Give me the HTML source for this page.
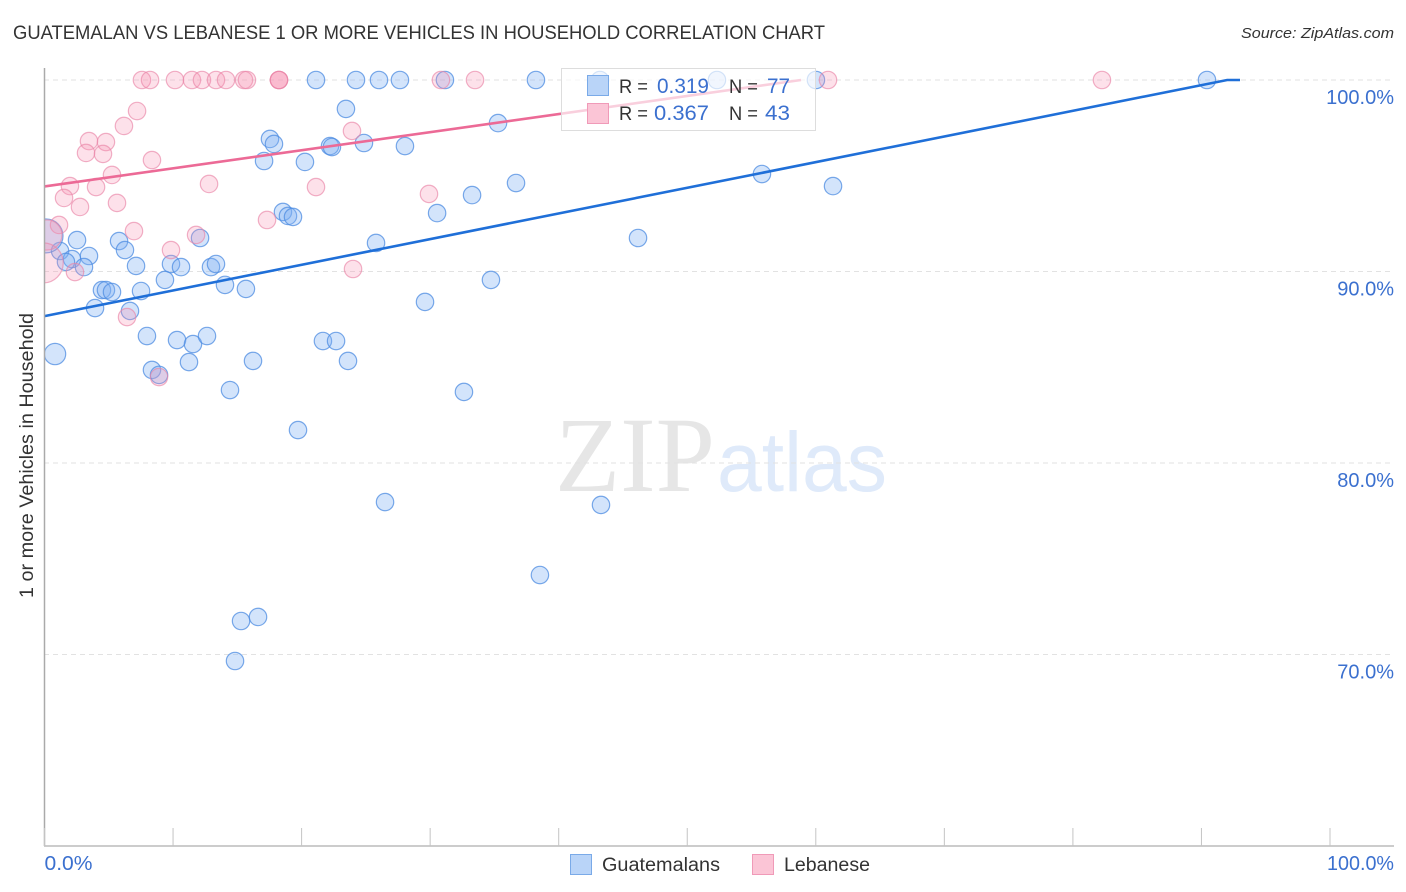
<!DOCTYPE html>
<html lang="en">
<head>
<meta charset="utf-8">
<title>Guatemalan vs Lebanese 1 or More Vehicles in Household Correlation Chart</title>
<style>
html,body{margin:0;padding:0;background:#fff;}
svg{display:block;font-family:"Liberation Sans",sans-serif;}
</style>
</head>
<body>
<svg id="chart" xmlns="http://www.w3.org/2000/svg" width="1406" height="892" viewBox="0 0 1406 892">
  <defs>
    <clipPath id="plot-clip"><rect x="44" y="60" width="1350" height="786"/></clipPath>
  </defs>
  <text x="13" y="39" font-size="19" fill="#333" textLength="812" lengthAdjust="spacingAndGlyphs">GUATEMALAN VS LEBANESE 1 OR MORE VEHICLES IN HOUSEHOLD CORRELATION CHART</text>
  <text x="1241" y="38" font-size="15" font-style="italic" fill="#333" textLength="153" lengthAdjust="spacingAndGlyphs">Source: ZipAtlas.com</text>

  <g>
    <text x="555" y="491" font-family="'Liberation Serif',serif" font-size="107" fill="#e6e6e6" textLength="160" lengthAdjust="spacingAndGlyphs">ZIP</text>
    <text x="717" y="491" font-family="'Liberation Sans',sans-serif" font-size="84" fill="#dfeafa" textLength="170" lengthAdjust="spacingAndGlyphs">atlas</text>
  </g>

  <g id="grid"></g>
  <g id="points" clip-path="url(#plot-clip)"></g>
  <g id="trends"></g>

  <line x1="44.5" y1="68" x2="44.5" y2="846" stroke="#aaa" stroke-width="1.5"/>
  <line x1="44" y1="846" x2="1394" y2="846" stroke="#bbb" stroke-width="1.5"/>
  <g id="ticks"></g>
  <g id="labels"></g>

  <text transform="translate(33,598) rotate(-90)" font-size="19" fill="#333" textLength="285" lengthAdjust="spacingAndGlyphs">1 or more Vehicles in Household</text>

  <g>
    <rect x="561.5" y="68.5" width="254" height="62" fill="#fff" fill-opacity="0.68" stroke="#ddd" stroke-width="1"/>
    <rect x="587.5" y="75.5" width="21" height="20" fill="#b9d4f8" stroke="#7aaae8"/>
    <rect x="587.5" y="103.5" width="21" height="20" fill="#fbc5d6" stroke="#f09ab8"/>
    <text x="619" y="93" font-size="19" fill="#333" textLength="29" lengthAdjust="spacingAndGlyphs">R =</text>
    <text x="657" y="93" font-size="21" fill="#3b70cf" textLength="52" lengthAdjust="spacingAndGlyphs">0.319</text>
    <text x="729" y="93" font-size="19" fill="#333" textLength="29" lengthAdjust="spacingAndGlyphs">N =</text>
    <text x="767" y="93" font-size="21" fill="#3b70cf" textLength="23" lengthAdjust="spacingAndGlyphs">77</text>
    <text x="619" y="120" font-size="19" fill="#333" textLength="29" lengthAdjust="spacingAndGlyphs">R =</text>
    <text x="654" y="120" font-size="21" fill="#3b70cf" textLength="55" lengthAdjust="spacingAndGlyphs">0.367</text>
    <text x="729" y="120" font-size="19" fill="#333" textLength="29" lengthAdjust="spacingAndGlyphs">N =</text>
    <text x="765" y="120" font-size="21" fill="#3b70cf" textLength="25" lengthAdjust="spacingAndGlyphs">43</text>
  </g>

  <g>
    <rect x="570.5" y="854.5" width="21" height="20" fill="#b9d4f8" stroke="#7aaae8"/>
    <text x="602" y="871" font-size="19" fill="#333" textLength="118" lengthAdjust="spacingAndGlyphs">Guatemalans</text>
    <rect x="752.5" y="854.5" width="21" height="20" fill="#fbc5d6" stroke="#f09ab8"/>
    <text x="784" y="871" font-size="19" fill="#333" textLength="86" lengthAdjust="spacingAndGlyphs">Lebanese</text>
  </g>
</svg>
<script>
const xTickValues = [0, 10, 20, 30, 40, 50, 60, 70, 80, 90, 100];
const xTickLabels = ["0.0%", "100.0%"];
const xLabelValues = [0, 100];
const yTickValues = [100, 90, 80, 70];
const yTickLabels = ["100.0%", "90.0%", "80.0%", "70.0%"];

const guatemalanX = [21.12,24.23,26.02,27.65,31.15,38.23,43.21,52.31,60.01,90.43,23.45,35.28,17.54,17.85,22.21,22.36,24.85,28.04,17.08,20.26,55.81,36.68,61.34,33.26,18.55,18.94,19.33,30.54,46.17,25.79,5.80,6.26,2.53,12.10,1.21,3.46,2.14,1.67,3.07,7.12,9.84,10.62,12.95,13.34,9.37,34.73,14.04,15.67,4.47,4.78,5.25,7.51,3.93,6.65,29.60,7.97,10.31,11.55,12.64,21.66,22.68,11.24,16.22,23.61,0.82,8.36,8.91,14.43,32.63,19.72,26.49,43.29,38.54,15.29,16.61,14.82,0.12];
const guatemalanY = [100,100,100,100,100,100,100,100,100,100,98.49,97.75,96.92,96.66,96.55,96.50,96.71,96.55,95.77,95.72,95.09,94.62,94.46,93.99,93.11,92.90,92.85,93.05,91.75,91.49,91.59,91.12,91.64,91.75,91.07,90.81,90.65,90.50,90.23,90.29,90.39,90.23,90.23,90.39,89.56,89.56,89.30,89.09,89.03,89.03,88.93,88.98,88.09,87.94,88.41,86.63,86.42,86.21,86.63,86.37,86.37,85.27,85.33,85.33,85.69,84.86,84.60,83.81,83.71,81.72,77.96,77.81,74.15,71.75,71.96,69.66,91.86];
const guatemalanWeight = [1,1,1,1,1,1,1,1,1,1,1,1,1,1,1,1,1,1,1,1,1,1,1,1,1,1,1,1,1,1,1,1,1,1,1,1,1,1,1,1,1,1,1,1,1,1,1,1,1,1,1,1,1,1,1,1,1,1,1,1,1,1,1,1,1.5,1,1,1,1,1,1,1,1,1,1,1,3.8];

const lebaneseX = [7.58,8.21,10.15,11.47,12.25,13.34,14.12,15.52,15.75,18.24,18.24,18.24,30.84,33.49,60.95,82.26,7.20,6.18,3.46,4.78,3.23,4.55,8.36,5.25,1.98,4.01,12.80,1.52,2.76,5.64,21.12,17.31,1.13,6.96,11.79,9.84,2.37,24.00,6.42,8.91,23.92,29.91,0.19,-0.1];
const lebaneseY = [100,100,100,100,100,100,100,100,100,100,100,100,100,100,100,100,98.38,97.60,96.81,96.76,96.19,96.14,95.82,95.04,94.46,94.41,94.57,93.84,93.37,93.58,94.41,92.69,92.43,92.11,91.91,91.12,89.97,90.13,87.62,84.49,97.34,94.05,91.91,90.45];
const lebaneseWeight = [1,1,1,1,1,1,1,1,1,1,1,1,1,1,1,1,1,1,1,1,1,1,1,1,1,1,1,1,1,1,1,1,1,1,1,1,1,1,1,1,1,1,3,5.3];

const guatemalanTrendX = [0, 92, 93];
const guatemalanTrendY = [87.67, 100, 100];
const lebaneseTrendX = [0, 58.85];
const lebaneseTrendY = [94.44, 100];

const NS = "http://www.w3.org/2000/svg";
function xScale(v) { return 44.5 + v * 12.855; }
function yScale(v) { return 80 + (100 - v) * 19.15; }
function rScale(w) { return 8.7 * Math.sqrt(w); }
function make(tag, attrs, parent) {
  const el = document.createElementNS(NS, tag);
  for (const k in attrs) el.setAttribute(k, attrs[k]);
  parent.appendChild(el);
  return el;
}

const grid = document.getElementById("grid");
const ticks = document.getElementById("ticks");
const labels = document.getElementById("labels");
const points = document.getElementById("points");
const trends = document.getElementById("trends");

yTickValues.forEach(function (v, i) {
  const line = make("line", {x1: 44, x2: 1394, y1: yScale(v), y2: yScale(v), stroke: "#e2e2e2", "stroke-width": 1, "stroke-dasharray": "5 4"}, grid);
  
  
  const t = make("text", {x: 1394, y: yScale(v) + 24, "text-anchor": "end", "font-size": 20, fill: "#3b70cf"}, labels);
  
  
  t.textContent = yTickLabels[i];
});

xTickValues.forEach(function (v) {
  const line = make("line", {x1: xScale(v), x2: xScale(v), y1: 828, y2: 846, stroke: "#c4c4c4", "stroke-width": 1}, ticks);
  
  
});

xLabelValues.forEach(function (v, i) {
  const t = make("text", {x: i === 0 ? xScale(v) : 1327, y: 870, "font-size": 20, fill: "#3b70cf", textLength: i === 0 ? 48 : 67, lengthAdjust: "spacingAndGlyphs"}, labels);
  
  
  t.textContent = xTickLabels[i];
});

function drawSeries(xs, ys, ws, fill, stroke, fillOpacity, strokeOpacity, name) {
  xs.forEach(function (v, i) {
    const c = make("circle", {cx: xScale(v), cy: yScale(ys[i]), r: rScale(ws[i]), fill: fill, "fill-opacity": fillOpacity, stroke: stroke, "stroke-opacity": strokeOpacity, "stroke-width": 1.2}, points);
    
    
  });
}
drawSeries(guatemalanX, guatemalanY, guatemalanWeight, "#7fb0f2", "#4d8ce2", 0.34, 0.75, "guatemalan-point");
drawSeries(lebaneseX, lebaneseY, lebaneseWeight, "#f88fb0", "#ea85a8", 0.27, 0.65, "lebanese-point");

function drawTrend(xs, ys, color, name) {
  const pts = xs.map(function (v, i) { return xScale(v) + "," + yScale(ys[i]); }).join(" ");
  const p = make("polyline", {points: pts, fill: "none", stroke: color, "stroke-width": 2.6}, trends);
  
  
}
drawTrend(guatemalanTrendX, guatemalanTrendY, "#1f6fd8", "guatemalan-trend-line");
drawTrend(lebaneseTrendX, lebaneseTrendY, "#ec6a96", "lebanese-trend-line");
</script>
</body>
</html>
